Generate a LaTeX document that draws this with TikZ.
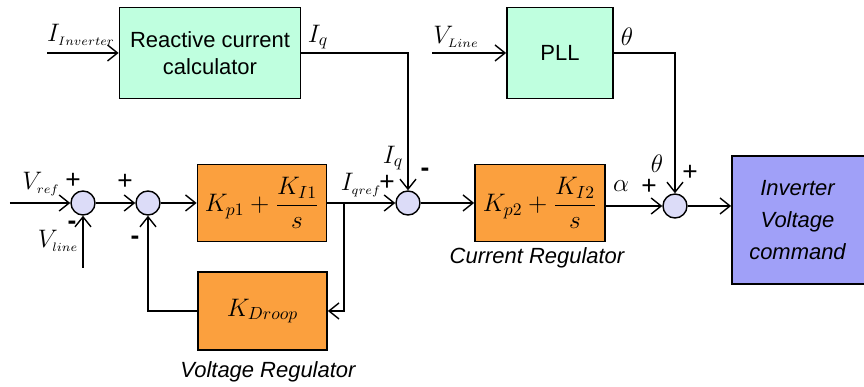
\documentclass[tikz,border=0pt]{standalone}
\usepackage{amsmath}
\usepackage{fontspec}
\setmainfont{Liberation Sans}
\usetikzlibrary{arrows.meta}
\definecolor{calcgreen}{HTML}{BFFFDF}
\definecolor{regorange}{HTML}{FBA03E}
\definecolor{sumblue}{HTML}{DCDCF8}
\definecolor{invblue}{HTML}{A0A0F8}

\begin{document}
\begin{tikzpicture}[font=\fontsize{12.5}{15}\selectfont,line width=0.8pt,
  >={Straight Barb[length=2mm,width=3.2mm]},
  block/.style={rectangle,draw,line width=1pt,inner sep=0pt,align=center},
  sumnode/.style={circle,draw,fill=sumblue,minimum size=0.48cm,inner sep=0pt},
  sig/.style={inner sep=0pt,font=\Large},
  sign/.style={inner sep=0pt,font=\fontsize{15}{15}\selectfont},
  caption/.style={inner sep=0pt,font=\fontsize{12.5}{15}\selectfont\itshape}]
\useasboundingbox (0,0) rectangle (17.28,7.74);
% blocks
\node[block,fill=calcgreen,minimum width=3.62cm,minimum height=1.82cm] (rcc) at (4.20,6.68) {Reactive current\\calculator};
\node[block,fill=calcgreen,minimum width=2.12cm,minimum height=1.82cm] (pll) at (11.20,6.68) {PLL};
\node[block,fill=regorange,minimum width=2.58cm,minimum height=1.54cm] (kp1) at (5.24,3.68) {\Large$K_{p1}+\dfrac{K_{I1}}{s}$};
\node[block,fill=regorange,minimum width=2.58cm,minimum height=1.56cm] (kdroop) at (5.25,1.52) {\Large$K_{Droop}$};
\node[block,fill=regorange,minimum width=2.60cm,minimum height=1.54cm] (kp2) at (10.80,3.68) {\Large$K_{p2}+\dfrac{K_{I2}}{s}$};
\node[block,fill=invblue,minimum width=2.72cm,minimum height=2.56cm,font=\fontsize{12.5}{18}\selectfont\itshape] (inv) at (16.00,3.34) {\hspace*{-0.1cm}Inverter\\\hspace*{-0.1cm}Voltage\\\hspace*{-0.1cm}command};
% summing junctions
\node[sumnode] (sum1) at (1.66,3.68) {};
\node[sumnode] (sum2) at (2.96,3.68) {};
\node[sumnode] (sum3) at (8.16,3.68) {};
\node[sumnode] (sum4) at (13.50,3.62) {};
% free ends
\coordinate (iin) at (0.94,6.68);
\coordinate (vin) at (8.64,6.68);
\coordinate (vref) at (0.20,3.68);
\coordinate (vline) at (1.66,2.38);
\coordinate (br) at (6.88,3.68);
% connectors
\draw[->] (iin) -- (rcc);
\draw[->] (vin) -- (pll);
\draw[->] (rcc.east) -| (sum3.north);
\draw[->] (pll.east) -| (sum4.north);
\draw[->] (vref) -- (sum1);
\draw[->] (vline) -- (sum1);
\draw[->] (sum1) -- (sum2);
\draw[->] (sum2) -- (kp1);
\draw[->] (kp1) -- (sum3);
\draw[->] (br) |- (kdroop.east);
\draw[->] (kdroop.west) -| (sum2.south);
\draw[->] (sum3) -- (kp2);
\draw[->] (kp2.east |- sum4) -- (sum4);
\draw[->] (sum4) -- (sum4 -| inv.west);
% signal labels
\node[sig] (lIinv) at (1.62,7.04) {$I_{\scriptscriptstyle Inverter}$};
\node[sig] (lIq) at (6.36,7.00) {$I_q$};
\node[sig] (lVLine) at (9.12,7.00) {$V_{\scriptscriptstyle Line}$};
\node[sig] (ltheta) at (12.54,7.00) {$\theta$};
\node[sig] (lVref) at (0.82,4.06) {$V_{\scriptscriptstyle ref}$};
\node[sig] (lVline) at (1.16,2.92) {$V_{\scriptscriptstyle line}$};
\node[sig] (lIqref) at (7.22,4.04) {$I_{\scriptscriptstyle qref}$};
\node[sig] (lIq2) at (7.86,4.58) {$I_q$};
\node[sig] (lalpha) at (12.42,4.02) {$\alpha$};
\node[sig] (ltheta2) at (13.14,4.46) {$\theta$};
% signs
\node[sign] (p1) at (1.46,4.12) {+};
\node[sign] (m1) at (1.44,3.24) {\textbf{-}};
\node[sign] (p2) at (2.50,4.10) {+};
\node[sign] (m2) at (2.70,2.94) {\textbf{-}};
\node[sign] (p3) at (7.74,4.08) {+};
\node[sign] (m3) at (8.50,4.30) {\textbf{-}};
\node[sign] (p4) at (12.98,4.00) {+};
\node[sign] (p5) at (13.80,4.28) {+};
% captions
\node[caption] (capcur) at (10.74,2.58) {Current Regulator};
\node[caption] (capvolt) at (5.36,0.30) {Voltage Regulator};
\end{tikzpicture}
\end{document}
